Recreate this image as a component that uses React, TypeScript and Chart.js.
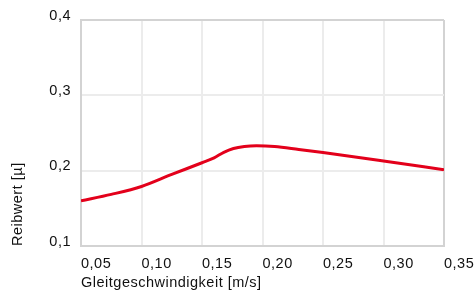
import React, { useEffect, useRef } from "react";
import { Chart, registerables } from "chart.js";

Chart.register(...registerables);

const xValues = [0.05, 0.075, 0.1, 0.125, 0.15, 0.16, 0.168, 0.176, 0.185, 0.195, 0.21, 0.23, 0.25, 0.3, 0.35];
const yValues = [0.16, 0.1685, 0.179, 0.195, 0.2105, 0.217, 0.2244, 0.2295, 0.2322, 0.2332, 0.2322, 0.2282, 0.224, 0.2128, 0.2013];
const xTickLabels = ["0,05", "0,10", "0,15", "0,20", "0,25", "0,30", "0,35"];
const yTickLabels = ["0,1", "0,2", "0,3", "0,4"];
const xTitle = "Gleitgeschwindigkeit [m/s]";
const yTitle = "Reibwert [µ]";

const FONT = "'Liberation Sans', Arial, Helvetica, sans-serif";
const FSIZE = 14.5;
const GRID = "#ececec";
const BORDER = "#d3d3d3";
const TEXT = "#111111";

const spacingPlugin = {
  id: "spacing",
  beforeDraw(chart: any) {
    (chart.ctx as any).letterSpacing = "0.5px";
  },
};

export default function App() {
  const ref = useRef<HTMLCanvasElement | null>(null);
  useEffect(() => {
    document.body.style.margin = "0";
    const canvas = ref.current!;
    const chart = new Chart(canvas, {
      type: "line",
      data: {
        datasets: [
          {
            data: xValues.map((x, i) => ({ x, y: yValues[i] })),
            borderColor: "#e3001b",
            borderWidth: 3,
            pointRadius: 0,
            cubicInterpolationMode: "monotone",
            fill: false,
          },
        ],
      },
      options: {
        responsive: false,
        animation: false,
        layout: { padding: { left: 0, top: 20, right: 31, bottom: 0 } },
        plugins: { legend: { display: false }, tooltip: { enabled: false } },
        scales: {
          x: {
            type: "linear",
            min: 0.05,
            max: 0.35,
            ticks: {
              stepSize: 0.05,
              align: "start",
              padding: 9,
              color: TEXT,
              font: { family: FONT, size: FSIZE },
              callback: (v: any) => {
                const i = Math.round((Number(v) - 0.05) / 0.05);
                return xTickLabels[i] ?? "";
              },
            },
            grid: {
              drawTicks: false,
              lineWidth: 2,
              color: (c: any) => (c.tick && Math.abs(c.tick.value - 0.35) < 1e-6 ? BORDER : GRID),
            },
            border: { color: BORDER, width: 2 },
            title: {
              display: true,
              text: xTitle,
              align: "start",
              color: TEXT,
              font: { family: FONT, size: FSIZE },
              padding: { top: 0, bottom: 0 },
            },
            afterFit: (s: any) => {
              s.height = 46;
              s.paddingLeft = 0;
              s.paddingRight = 0;
            },
          },
          y: {
            type: "linear",
            min: 0.1,
            max: 0.4,
            ticks: {
              stepSize: 0.1,
              padding: 10,
              labelOffset: -4.5,
              color: TEXT,
              font: { family: FONT, size: FSIZE },
              callback: (v: any) => {
                const i = Math.round((Number(v) - 0.1) / 0.1);
                return yTickLabels[i] ?? "";
              },
            },
            grid: {
              drawTicks: false,
              lineWidth: 2,
              color: (c: any) => (c.tick && Math.abs(c.tick.value - 0.4) < 1e-6 ? BORDER : GRID),
            },
            border: { color: BORDER, width: 2 },
            title: {
              display: true,
              text: yTitle,
              align: "start",
              color: TEXT,
              font: { family: FONT, size: FSIZE },
              padding: { top: 9, bottom: 0 },
            },
            afterFit: (s: any) => {
              s.width = 81;
              s.paddingTop = 0;
              s.paddingBottom = 0;
            },
          },
        },
      },
      plugins: [spacingPlugin],
    } as any);
    return () => chart.destroy();
  }, []);
  return (
    <div style={{ position: "absolute", left: 0, top: 0, width: 475, height: 292 }}>
      <canvas ref={ref} width={475} height={292} style={{ display: "block" }} />
    </div>
  );
}
